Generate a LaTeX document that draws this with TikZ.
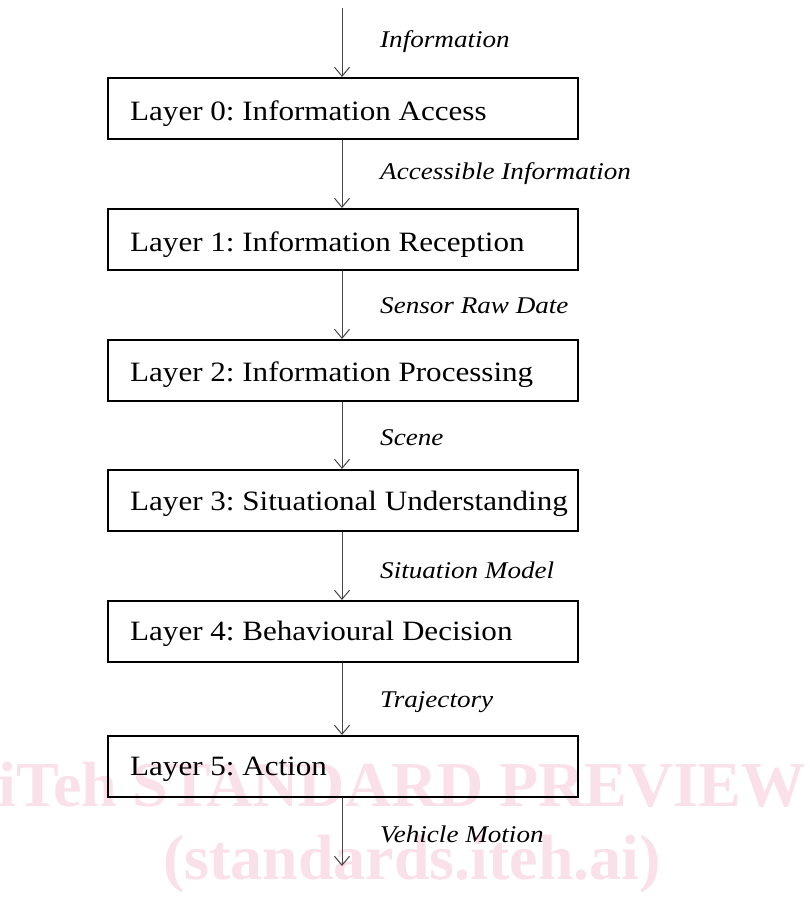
\documentclass[tikz,border=0pt]{standalone}
\usepackage{fontspec}
\setmainfont{Liberation Serif}
\newfontfamily\widefont[FakeStretch=1.11]{Liberation Serif}
\newfontfamily\widelabelfont[FakeStretch=1.13]{Liberation Serif}
\usetikzlibrary{arrows.meta}
\definecolor{wm}{RGB}{250,224,232}
\definecolor{ln}{RGB}{70,70,70}
\begin{document}
\frenchspacing
\begin{tikzpicture}[x=1pt,y=-1pt,
  layerbox/.style={draw=black,line width=2.2pt,minimum width=470pt,minimum height=61pt,anchor=north west,inner sep=0pt},
  boxtext/.style={anchor=west,font=\widefont\fontsize{28}{30}\selectfont,inner sep=0pt},
  flowlabel/.style={anchor=west,font=\widelabelfont\fontsize{24}{26}\selectfont\itshape,inner sep=0pt},
  flow/.style={draw=ln,line width=1pt,-{Straight Barb[length=9pt,width=15pt,line width=1pt]}},
  wmtext/.style={text=wm,font=\fontsize{64}{70}\selectfont\bfseries,inner sep=0pt}]
\useasboundingbox (0,0) rectangle (810,899);
% watermark
\node[wmtext] (wm1) at (402,785) {iTeh STANDARD PREVIEW};
\node[wmtext] (wm2) at (412,864) {(standards.iteh.ai)};
% boxes
\node[layerbox] (b0) at (107,77) {};
\node[layerbox] (b1) at (107,208) {};
\node[layerbox] (b2) at (107,339) {};
\node[layerbox] (b3) at (107,469) {};
\node[layerbox] (b4) at (107,600) {};
\node[layerbox] (b5) at (107,735) {};
\node[boxtext] (t0) at (130,114) {Layer 0: Information Access};
\node[boxtext] (t1) at (130,245) {Layer 1: Information Reception};
\node[boxtext] (t2) at (130,375) {Layer 2: Information Processing};
\node[boxtext] (t3) at (130,504) {Layer 3: Situational Understanding};
\node[boxtext] (t4) at (130,634) {Layer 4: Behavioural Decision};
\node[boxtext] (t5) at (130,769) {Layer 5: Action};
% connectors
\coordinate (in) at (342,8);
\coordinate (out) at (342,866);
\draw[flow] (in) -- (in |- b0.north);
\draw[flow] (b0.south -| in) -- (in |- b1.north);
\draw[flow] (b1.south -| in) -- (in |- b2.north);
\draw[flow] (b2.south -| in) -- (in |- b3.north);
\draw[flow] (b3.south -| in) -- (in |- b4.north);
\draw[flow] (b4.south -| in) -- (in |- b5.north);
\draw[flow] (b5.south -| in) -- (out);
% labels
\node[flowlabel] (l0) at (380,42) {Information};
\node[flowlabel] (l1) at (380,174) {Accessible Information};
\node[flowlabel] (l2) at (380,306) {Sensor Raw Date};
\node[flowlabel] (l3) at (380,438) {Scene};
\node[flowlabel] (l4) at (380,570) {Situation Model};
\node[flowlabel] (l5) at (380,702) {Trajectory};
\node[flowlabel] (l6) at (380,834) {Vehicle Motion};
\end{tikzpicture}
\end{document}
